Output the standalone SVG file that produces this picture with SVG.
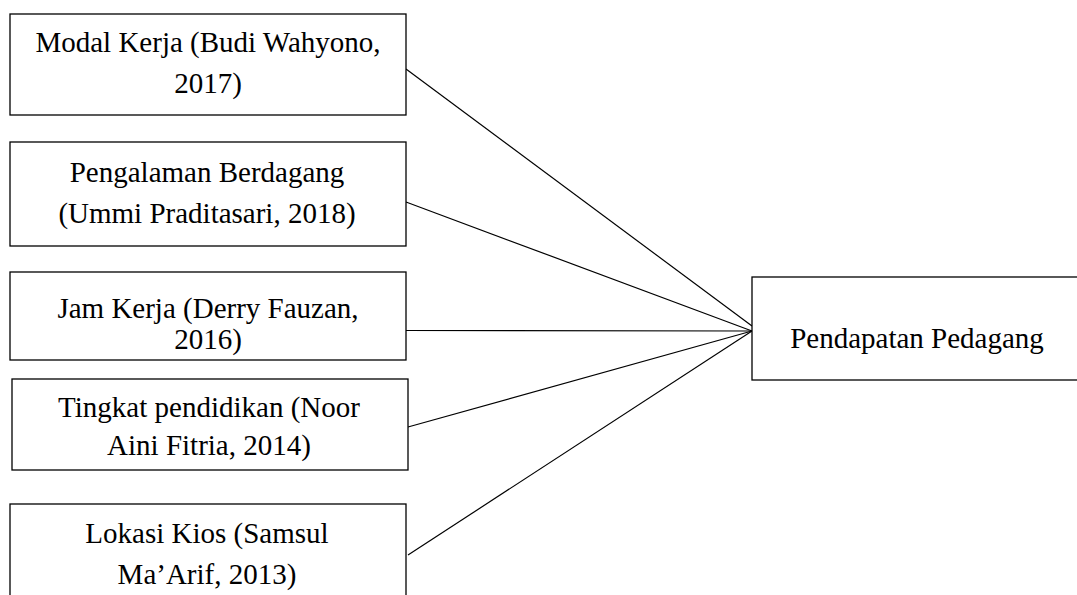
<svg xmlns="http://www.w3.org/2000/svg" width="1077" height="595" viewBox="0 0 1077 595">
<style>
.box{fill:#fff;stroke:#000;stroke-width:1.3}
.t{font-family:"Liberation Serif","Times New Roman",serif;font-size:29px;fill:#000;text-anchor:middle}
.c{stroke:#000;stroke-width:1.2;fill:none}
</style>
<rect width="1077" height="595" fill="#fff"/>
<g id="connectors">
<line class="c" x1="406" y1="69" x2="752" y2="326"/>
<line class="c" x1="406" y1="202" x2="752" y2="331"/>
<line class="c" x1="406" y1="330.5" x2="752" y2="331"/>
<line class="c" x1="408" y1="427" x2="752" y2="331"/>
<line class="c" x1="408" y1="555" x2="752" y2="331"/>
</g>
<g id="n1"><rect class="box" x="10" y="14" width="396" height="101"/>
<text class="t" x="208" y="52">Modal Kerja (Budi Wahyono,</text>
<text class="t" x="208" y="93">2017)</text></g>
<g id="n2"><rect class="box" x="10" y="142" width="396" height="104"/>
<text class="t" x="207" y="182">Pengalaman Berdagang</text>
<text class="t" x="207" y="223">(Ummi Praditasari, 2018)</text></g>
<g id="n3"><rect class="box" x="10" y="272" width="396" height="88"/>
<text class="t" x="208" y="318">Jam Kerja (Derry Fauzan,</text>
<text class="t" x="208" y="349">2016)</text></g>
<g id="n4"><rect class="box" x="12" y="379" width="396" height="91"/>
<text class="t" x="209" y="417">Tingkat pendidikan (Noor</text>
<text class="t" x="209" y="455">Aini Fitria, 2014)</text></g>
<g id="n5"><rect class="box" x="10" y="504" width="396" height="100"/>
<text class="t" x="207" y="543">Lokasi Kios (Samsul</text>
<text class="t" x="207" y="584">Ma’Arif, 2013)</text></g>
<g id="n6"><rect class="box" x="752" y="277" width="335" height="103"/>
<text class="t" x="917" y="348">Pendapatan Pedagang</text></g>
</svg>
